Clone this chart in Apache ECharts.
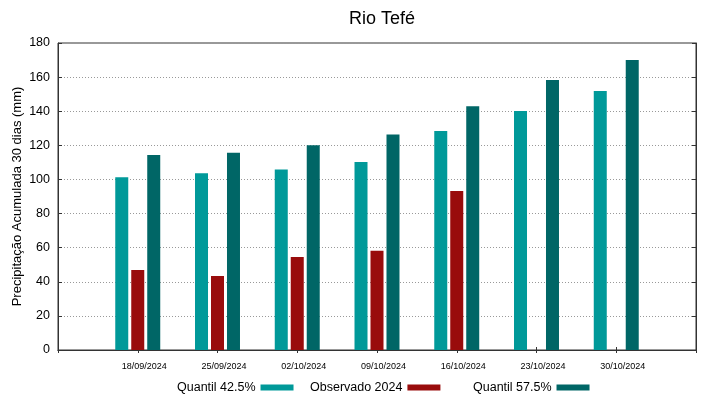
<!DOCTYPE html>
<html>
<head>
<meta charset="utf-8">
<script src="https://cdn.jsdelivr.net/npm/echarts@6/dist/echarts.min.js"></script>
<style>
html,body{margin:0;padding:0;background:#fff;}
#main{width:719px;height:399px;}
</style>
</head>
<body>
<div id="main"></div>
<script>
// datas das semanas (eixo x)
var datas = ['18/09/2024','25/09/2024','02/10/2024','09/10/2024','16/10/2024','23/10/2024','30/10/2024'];
// valores (mm)
var quantil425 = [101.3, 103.6, 105.9, 110.2, 128.4, 140.1, 151.9];
var observado2024 = [46.9, 43.4, 54.5, 58.2, 93.2, null, null];
var quantil575 = [114.3, 115.7, 120.0, 126.4, 142.9, 158.3, 170.0];
var yTicks = [0, 20, 40, 60, 80, 100, 120, 140, 160, 180];

var nomes = ['Quantil 42.5%', 'Observado 2024', 'Quantil 57.5%'];
var cores = ['#009999', '#990c0c', '#006666'];

// uma categoria vazia em cada ponta (xrange -1..7 do grafico original)
var cats = [''].concat(datas).concat(['']);
function pad(arr){
	var out = ['-'];
	for(var i=0;i<arr.length;i++){
		out.push(arr[i] == null ? '-' : arr[i]);
	}
	out.push('-');
	return out;
}

var fonte = '"Liberation Sans", Arial, sans-serif';
var myChart = echarts.init(document.getElementById('main'));

var legendas = [];
var posLeg = [177, 310, 473];
for(var k=0;k<nomes.length;k++){
	legendas.push({
		data: [nomes[k]],
		left: posLeg[k],
		top: 381,
		padding: 0,
		align: 'right',
		icon: 'rect',
		itemWidth: 33,
		itemHeight: 6,
		selectedMode: false,
		textStyle: {fontFamily: fonte, fontSize: 12.5, color: '#000'}
	});
}

var series = [];
var valores = [quantil425, observado2024, quantil575];
for(var s=0;s<nomes.length;s++){
	series.push({
		name: nomes[s],
		type: 'bar',
		xAxisIndex: 0,
		yAxisIndex: 0,
		barWidth: 13,
		barGap: '23%',
		itemStyle: {color: cores[s]},
		data: pad(valores[s])
	});
}

option = {
	backgroundColor: '#fff',
	animation: false,
	title: {
		text: 'Rio Tefé',
		left: 377,
		textAlign: 'center',
		top: 5,
		textStyle: {fontFamily: fonte, fontSize: 18, fontWeight: 'normal', color: '#000'}
	},
	legend: legendas,
	grid: {
		left: 58, right: 23, top: 43, bottom: 49,
		outerBoundsMode: 'none',
		containLabel: false,
		show: true, borderColor: '#333', borderWidth: 1
	},
	xAxis: [
		{
			type: 'category',
			data: cats,
			boundaryGap: false,
			position: 'bottom',
			axisLine: {lineStyle: {color: '#333'}},
			axisTick: {inside: true, length: 3, lineStyle: {color: '#333'}},
			axisLabel: {
				fontFamily: fonte, fontSize: 9, color: '#000',
				margin: 12, padding: [0,0,0,13],
				interval: 0
			},
			splitLine: {show: false}
		},
		{
			type: 'category',
			data: cats,
			boundaryGap: false,
			position: 'top',
			axisLine: {lineStyle: {color: '#333'}},
			axisTick: {inside: true, length: 3, lineStyle: {color: '#333'}},
			axisLabel: {show: false},
			splitLine: {show: false}
		}
	],
	yAxis: [
		{
			type: 'value',
			min: yTicks[0],
			max: yTicks[yTicks.length-1],
			interval: 20,
			name: 'Precipitação Acumulada 30 dias (mm)',
			nameLocation: 'middle',
			nameGap: 34,
			nameMoveOverlap: false,
			nameTextStyle: {fontFamily: fonte, fontSize: 13, color: '#000'},
			axisLine: {show: true, lineStyle: {color: '#333'}},
			axisTick: {show: true, inside: true, length: 4, lineStyle: {color: '#333'}},
			axisLabel: {fontFamily: fonte, fontSize: 12.5, color: '#000', margin: 8},
			splitLine: {show: true, lineStyle: {color: '#999', type: [1, 2], width: 1}}
		},
		{
			type: 'value',
			position: 'right',
			min: yTicks[0],
			max: yTicks[yTicks.length-1],
			interval: 20,
			axisLine: {show: true, lineStyle: {color: '#333'}},
			axisTick: {show: true, inside: true, length: 4, lineStyle: {color: '#333'}},
			axisLabel: {show: false},
			splitLine: {show: false}
		}
	],
	series: series
};

myChart.setOption(option);
</script>
</body>
</html>
